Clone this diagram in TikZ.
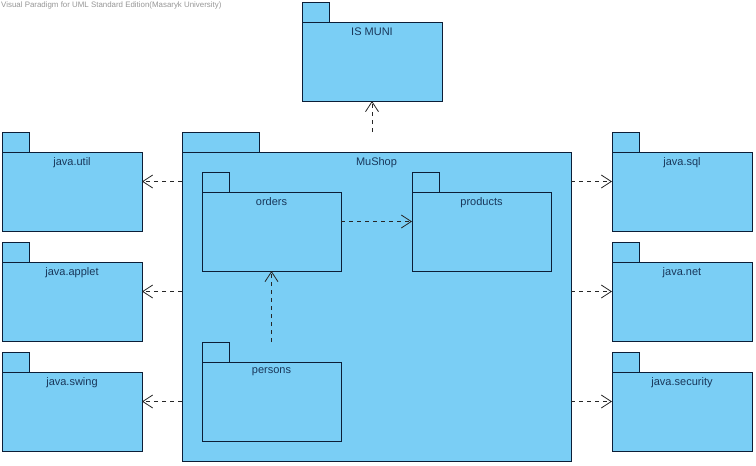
\documentclass[tikz,border=0pt]{standalone}
\usepackage{fontspec}
\setmainfont{Liberation Sans}
\usetikzlibrary{arrows.meta}
\definecolor{pkgfill}{RGB}{122,206,245}
\definecolor{pkgline}{RGB}{12,30,55}
\definecolor{pkgtext}{RGB}{25,55,90}
\definecolor{wmgray}{RGB}{150,150,150}
\tikzset{
 pkgbox/.style={draw=none, inner sep=0pt, outer sep=0pt, anchor=north west},
 pkgshape/.style={draw=pkgline, fill=pkgfill, line width=1pt},
 pkglabel/.style={text=pkgtext, font=\fontsize{11}{13}\selectfont, anchor=north, inner sep=0pt, yshift=-5.5pt},
 dep/.style={draw=black!85, dash pattern=on 4pt off 4pt, line width=0.8pt, -{Straight Barb[length=10pt,width=13pt]}},
}
\newcommand\pkgdraw[7]{% name, x1, y1, x2, y2, tab width, label
 \node[pkgbox, minimum width={#4-#2}, minimum height={#5-#3}] (#1) at (#2,#3) {};
 \draw[pkgshape] (#1.north west) rectangle ++(#6,20);
 \draw[pkgshape] ([yshift=-20pt]#1.north west) rectangle (#1.south east);
 \node[pkglabel] (#1-label) at ([yshift=-20pt]#1.north) {#7};
}
\begin{document}
\begin{tikzpicture}[x=1pt,y=-1pt]
\useasboundingbox (0,0) rectangle (756,466);
\node[anchor=north west, inner sep=0pt, text=wmgray, font=\fontsize{7.9}{9}\selectfont] (wm) at (1,2) {Visual Paradigm for UML Standard Edition(Masaryk University)};
\pkgdraw{ismuni}{302}{2}{442}{101}{27}{IS MUNI}
\pkgdraw{util}{2}{132}{142}{231}{27}{java.util}
\pkgdraw{applet}{2}{242}{142}{341}{27}{java.applet}
\pkgdraw{swing}{2}{352}{142}{451}{27}{java.swing}
\pkgdraw{sql}{612}{132}{752}{231}{27}{java.sql}
\pkgdraw{net}{612}{242}{752}{341}{27}{java.net}
\pkgdraw{security}{612}{352}{752}{451}{27}{java.security}
\pkgdraw{mushop}{182}{132}{571}{461}{77}{MuShop}
\pkgdraw{orders}{202}{172}{341}{271}{27}{orders}
\pkgdraw{products}{412}{172}{551}{271}{27}{products}
\pkgdraw{persons}{202}{342}{341}{441}{27}{persons}
\draw[dep] (mushop.north -| ismuni.south) -- (ismuni.south);
\draw[dep] (mushop.west |- util.east) -- (util.east);
\draw[dep] (mushop.west |- applet.east) -- (applet.east);
\draw[dep] (mushop.west |- swing.east) -- (swing.east);
\draw[dep] (mushop.east |- sql.west) -- (sql.west);
\draw[dep] (mushop.east |- net.west) -- (net.west);
\draw[dep] (mushop.east |- security.west) -- (security.west);
\draw[dep] (orders.east) -- (products.west);
\draw[dep] (persons.north) -- (orders.south);
\end{tikzpicture}
\end{document}
